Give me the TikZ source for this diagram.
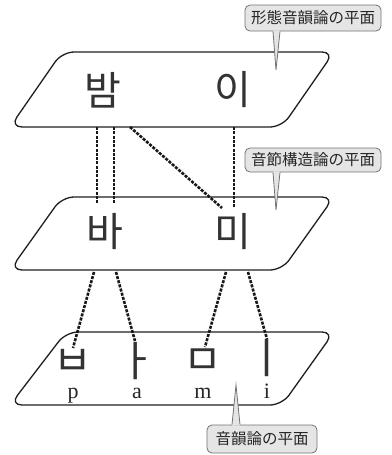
\documentclass[tikz,border=0pt]{standalone}
\usepackage{fontspec}
\newfontfamily\krfont{Noto Sans CJK KR}
\newfontfamily\jpfont{Noto Sans CJK JP}
\newfontfamily\latfont{Liberation Serif}
\begin{document}
\begin{tikzpicture}[x=1pt,y=-1pt,
  plane/.style={draw=black!88, line width=1.3pt, rounded corners=12pt},
  link/.style={line width=2.6pt, dash pattern=on 3pt off 1.3pt, draw=black!90},
  big/.style={font=\krfont\fontsize{40}{40}\selectfont, inner sep=0pt, text=black!80},
  jamo/.style={font=\krfont\fontsize{42}{42}\selectfont, inner sep=0pt, text=black!80},
  roman/.style={font=\latfont\fontsize{22}{22}\selectfont, inner sep=0pt, anchor=base, text=black!85},
  callout/.style={draw=black!55, fill=black!10, rounded corners=5pt, line width=0.8pt,
    font=\jpfont\fontsize{15.5}{16}\selectfont, text=black!85, inner sep=0pt},
  wedgefill/.style={fill=black!10},
  wedgeline/.style={draw=black!55, line width=0.8pt},
]
\useasboundingbox (0,0) rectangle (391,455);
\fill[white] (0,0) rectangle (391,455);

% planes
\draw[plane] (62,52) -- (334,52) -- (282,127) -- (10,127) -- cycle;
\draw[plane] (62,197) -- (334,197) -- (282,270) -- (10,270) -- cycle;
\draw[plane] (66,332) -- (334,332) -- (282,405) -- (10,405) -- cycle;

% characters
\node[big] (bam) at (103,90) {밤};
\node[big] (i1) at (233,90) {이};
\node[big] (ba) at (105,232) {바};
\node[big] (mi) at (233,232) {미};
\node[jamo] (jb) at (73,362) {ㅂ};
\node[jamo] (ja) at (137,361) {ㅏ};
\node[jamo] (jm) at (203,362) {ㅁ};
\node[jamo] (ji) at (267,358) {ㅣ};
\node[roman] (rp) at (73,398) {p};
\node[roman] (ra) at (137,398) {a};
\node[roman] (rm) at (203,398) {m};
\node[roman] (ri) at (267,398) {i};

% connector end points
\coordinate (bamA) at (97,127);  \coordinate (baA) at (97,203);
\coordinate (bamB) at (114,127); \coordinate (baB) at (114,203);
\coordinate (bamC) at (130,127); \coordinate (miC) at (222,208);
\coordinate (i1D) at (234,127);  \coordinate (miD) at (234,207);
\coordinate (baE) at (94,272);   \coordinate (jbE) at (73,348);
\coordinate (baF) at (116,272);  \coordinate (jaF) at (135,341);
\coordinate (miG) at (226,272);  \coordinate (jmG) at (205,347);
\coordinate (miH) at (248,272);  \coordinate (jiH) at (267,339);

\draw[link] (bamA) -- (baA);
\draw[link] (bamB) -- (baB);
\draw[link] (bamC) -- (miC);
\draw[link] (i1D) -- (miD);
\draw[link] (baE) -- (jbE);
\draw[link] (baF) -- (jaF);
\draw[link] (miG) -- (jmG);
\draw[link] (miH) -- (jiH);

% callouts
\node[callout, minimum width=136pt, minimum height=26pt] (c1) at (313,18) {形態音韻論の平面};
\node[callout, minimum width=136pt, minimum height=24pt] (c2) at (313,160) {音節構造論の平面};
\node[callout, minimum width=110pt, minimum height=28pt] (c3) at (262,439) {音韻論の平面};

\coordinate (t1) at (276,70);
\coordinate (t2) at (276,210);
\coordinate (t3) at (236,385);

\fill[wedgefill] ([xshift=-3pt,yshift=1pt]c1.south -| t1) -- (t1) -- ([xshift=4pt,yshift=1pt]c1.south -| t1) -- cycle;
\draw[wedgeline] ([xshift=-3pt]c1.south -| t1) -- (t1) -- ([xshift=4pt]c1.south -| t1);
\fill[wedgefill] ([xshift=-3pt,yshift=1pt]c2.south -| t2) -- (t2) -- ([xshift=4pt,yshift=1pt]c2.south -| t2) -- cycle;
\draw[wedgeline] ([xshift=-3pt]c2.south -| t2) -- (t2) -- ([xshift=4pt]c2.south -| t2);
\fill[wedgefill] ([xshift=-4pt,yshift=-1pt]c3.north -| t3) -- (t3) -- ([xshift=4pt,yshift=-1pt]c3.north -| t3) -- cycle;
\draw[wedgeline] ([xshift=-4pt]c3.north -| t3) -- (t3) -- ([xshift=4pt]c3.north -| t3);
\end{tikzpicture}
\end{document}
